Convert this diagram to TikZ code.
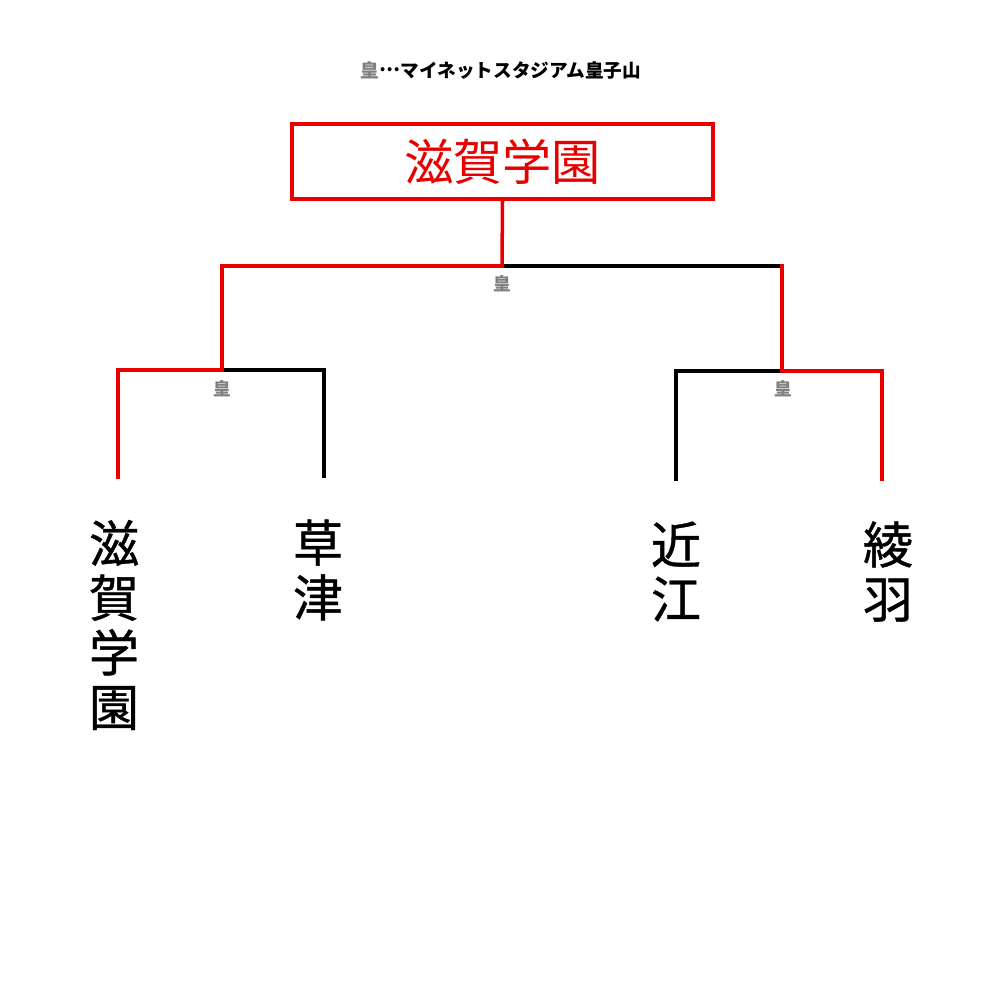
\documentclass[tikz,border=0pt]{standalone}
\usepackage{fontspec}
\usepackage{xcolor}
\usepackage{tikz}
\usetikzlibrary{positioning}
\newfontfamily\jpfont{Noto Sans CJK JP}
\newfontfamily\jpmed{Noto Sans CJK JP}[FakeBold=0.8]
\definecolor{winred}{RGB}{232,0,0}
\definecolor{markgray}{RGB}{128,128,128}
\tikzset{
  every picture/.append style={line cap=rect,line join=miter},
  win line/.style={winred,line width=2pt},
  lose line/.style={black,line width=2pt},
  champ box/.style={draw=winred,line width=1.8pt,inner sep=0pt,minimum width=8.42cm,minimum height=1.5cm,text=winred,font=\jpfont\fontsize{28}{30}\selectfont},
  team name/.style={inner sep=0pt,align=center,font=\jpmed\fontsize{28.5}{31.1}\selectfont},
  venue mark/.style={inner sep=0pt,text=markgray,font=\jpfont\bfseries\fontsize{10}{12}\selectfont},
  venue note/.style={inner sep=0pt,font=\jpfont\bfseries\fontsize{10.6}{12}\selectfont}
}
\begin{document}
\begin{tikzpicture}[x=0.02cm,y=-0.02cm]
\useasboundingbox (0,0) rectangle (1000,1000);
\node[venue note] (venue) at (501,71) {{\color{markgray}皇}\raisebox{0.33em}{…}マイネットスタジアム皇子山};
\node[champ box] (champ) at (502.5,161.5) {滋賀学園};
% bracket junctions
\coordinate (final) at (502,266);
\coordinate (finalR) at (782,266);
\coordinate (semiL) at (222,370);
\coordinate (semiR) at (782,371);
\coordinate (leaf1) at (118,477);
\coordinate (leaf2) at (324,476);
\coordinate (leaf3) at (676,479);
\coordinate (leaf4) at (882,479);
% losing sides
\draw[lose line] (final) -- (finalR);
\draw[lose line] (semiL) -| (leaf2);
\draw[lose line] (semiR) -| (leaf3);
% winning path
\draw[win line] (champ.south) -- (final);
\draw[win line] (final) -| (semiL);
\draw[win line] (finalR) -- (semiR);
\draw[win line] (semiL) -| (leaf1);
\draw[win line] (semiR) -| (leaf4);
% venue marks
\node[venue mark] (markF) at (502,284) {皇};
\node[venue mark] (markL) at (222,389) {皇};
\node[venue mark] (markR) at (783,389) {皇};
% teams
\node[team name] (shiga) at (114,625) {滋\\賀\\学\\園};
\node[team name] (kusatsu) at (318,570) {草\\津};
\node[team name] (omi) at (676,571.5) {近\\江};
\node[team name] (ayaha) at (888,571.5) {綾\\羽};
\end{tikzpicture}
\end{document}
